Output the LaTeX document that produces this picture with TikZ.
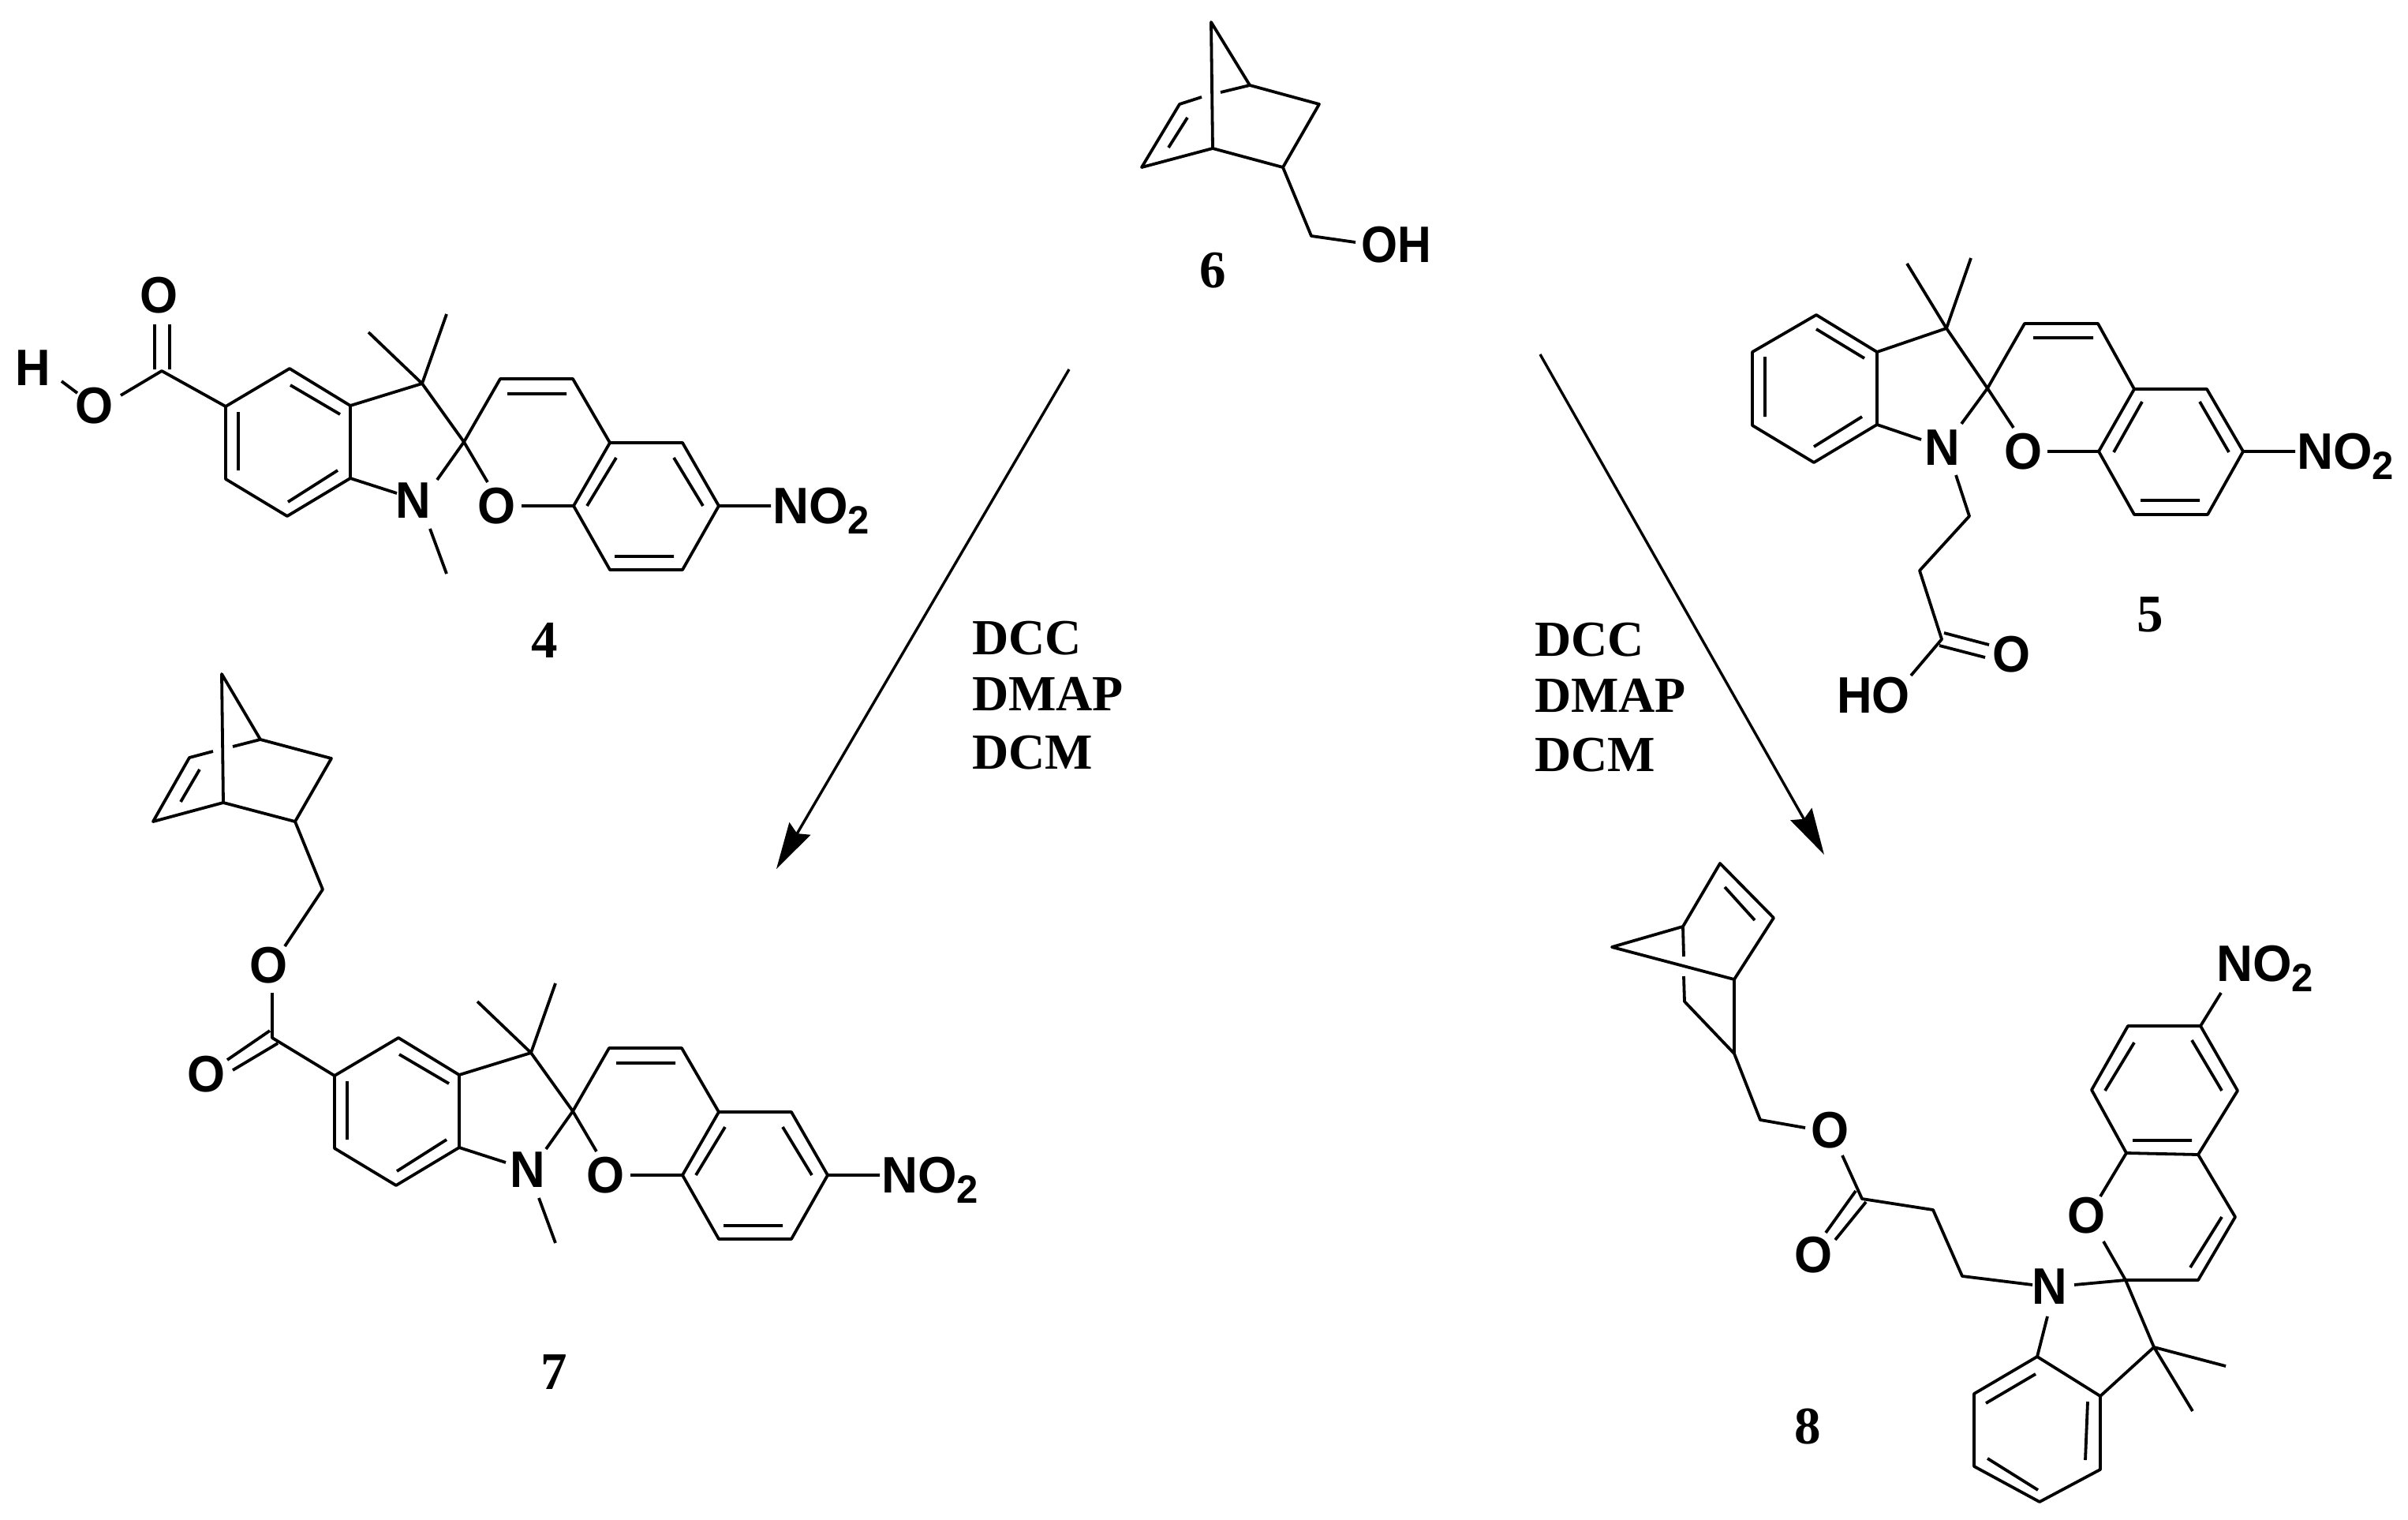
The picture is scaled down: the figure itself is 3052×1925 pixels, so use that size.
\documentclass[tikz,border=0pt]{standalone}
\usepackage{fontspec}
\usetikzlibrary{arrows.meta}
\setmainfont{Liberation Serif}
\newfontfamily\atomfont{Liberation Sans}
\newcommand{\cc}[3]{\coordinate (#1) at (#2,#3);}
\newcommand{\nitro}{\scalebox{.98}[1]{NO\raisebox{-13pt}{\fontsize{50}{50}\selectfont 2}}}
\tikzset{
  bond/.style={line width=3.8pt,line join=round,draw=black},
  atom/.style={inner sep=0pt,outer sep=0pt,anchor=base,font=\fontsize{65}{65}\selectfont\atomfont\bfseries,text=black},
  atomleft/.style={atom,anchor=base west},
  cmpd/.style={inner sep=0pt,outer sep=0pt,anchor=base,font=\fontsize{67}{67}\selectfont\bfseries,text=black},
  reagent/.style={inner sep=0pt,outer sep=0pt,anchor=base west,font=\fontsize{64}{64}\selectfont\bfseries,text=black},
  rxn/.style={line width=3.4pt,draw=black,-{Stealth[length=59pt,width=31pt,inset=7pt]}}
}
% Methyl-spiropyran core shared by compounds 4 and 7 (#1 = x of the N label)
\newcommand{\spirocore}[1]{%
  \cc{c5}{286}{515}\cc{c4}{367}{467}\cc{c3a}{444}{514}\cc{c7a}{444}{606}\cc{c7}{364}{654}\cc{c6}{286}{607}
  \cc{c3}{535}{486}\cc{sp}{588}{560}\cc{me1}{467}{421}\cc{me2}{566}{398}
  \cc{nl}{503}{625}\cc{nr}{554}{608}\cc{nb}{545}{670}\cc{nme}{566}{727}
  \cc{ot}{618}{611}\cc{or}{661}{641}
  \cc{p1}{634}{480}\cc{p2}{726}{480}\cc{p3}{773}{561}\cc{p4}{865}{561}\cc{p5}{911}{641}\cc{p6}{865}{722}\cc{p7}{773}{722}\cc{p8}{727}{641}
  \cc{no}{977}{641}
  \cc{i1a}{643}{499}\cc{i1b}{718}{499}\cc{i2a}{781}{580}\cc{i2b}{744}{641}\cc{i3a}{854}{580}\cc{i3b}{891}{641}\cc{i4a}{779}{705}\cc{i4b}{854}{705}
  \cc{i5a}{368}{488}\cc{i5b}{431}{525}\cc{i6a}{302}{522}\cc{i6b}{302}{596}\cc{i7a}{365}{636}\cc{i7b}{428}{596}
  \draw[bond] (c5)--(c4)--(c3a)--(c7a)--(c7)--(c6)--cycle;
  \draw[bond] (i5a)--(i5b) (i6a)--(i6b) (i7a)--(i7b);
  \draw[bond] (c3a)--(c3)--(sp) (me1)--(c3)--(me2);
  \draw[bond] (c7a)--(nl) (nr)--(sp) (nb)--(nme);
  \draw[bond] (sp)--(p1)--(p2)--(p3)--(p4)--(p5)--(p6)--(p7)--(p8)--(p3);
  \draw[bond] (i1a)--(i1b) (i2a)--(i2b) (i3a)--(i3b) (i4a)--(i4b);
  \draw[bond] (sp)--(ot) (or)--(p8) (p5)--(no);
  \node[atom] (Natom) at (#1,656) {\scalebox{.95}[1]{N}};
  \node[atom] (Oatom) at (630,663) {\scalebox{.95}[1]{O}};
  \node[atomleft] (NO2) at (979,663) {\nitro};
}
\begin{document}
\begin{tikzpicture}[x=1pt,y=-1pt]
\path[fill=white,use as bounding box] (0,0) rectangle (3052,1925);

% ---------- compound 6
\begin{scope}[name prefix=m6-]
\cc{top}{1535}{28}\cc{foot}{1537}{188}\cc{rt}{1584}{108}\cc{r}{1672}{132}\cc{c}{1626}{212}\cc{l}{1447}{212}\cc{lt}{1495}{132}
\cc{g1}{1523}{123}\cc{g2}{1547}{117}\cc{i1}{1505}{149}\cc{i2}{1481}{187}\cc{ch}{1662}{299}\cc{oh}{1718}{307}
\draw[bond] (rt)--(top)--(foot)--(l)--(lt)--(g1) (g2)--(rt)--(r)--(c)--(foot) (i1)--(i2) (c)--(ch)--(oh);
\node[atomleft] (OH) at (1725,332) {\scalebox{.91}[1]{OH}};
\node[cmpd] (lab) at (1537,364) {6};
\end{scope}

% ---------- compound 4
\begin{scope}[name prefix=m4-]
\spirocore{524}
\cc{cc}{205}{470}\cc{d1a}{196}{411}\cc{d1b}{196}{468}\cc{d2a}{215}{411}\cc{d2b}{215}{468}\cc{co}{153}{501}\cc{oh1}{98}{498}\cc{oh2}{78}{483}
\draw[bond] (c5)--(cc)--(co) (d1a)--(d1b) (d2a)--(d2b) (oh1)--(oh2);
\node[atom] (Ot) at (202,396) {\scalebox{.95}[1]{O}};
\node[atom] (Oh) at (120,536) {\scalebox{.95}[1]{O}};
\node[atom] (H) at (42,488) {\scalebox{.95}[1]{H}};
\node[cmpd] (lab) at (690,833) {4};
\end{scope}

% ---------- compound 7
\begin{scope}[shift={(138,848)},name prefix=m7-]
\spirocore{531}
\end{scope}
\begin{scope}[name prefix=m7b-]
\cc{cc}{345}{1315}\cc{d1a}{342}{1306}\cc{d1b}{288}{1343}\cc{d2a}{352}{1322}\cc{d2b}{295}{1356}
\cc{oa}{345}{1258}\cc{ob}{361}{1199}\cc{ch}{409}{1127}\cc{c}{374}{1041}\cc{f}{283}{1017}\cc{l}{194}{1041}\cc{lt}{240}{960}\cc{rt}{330}{937}\cc{r}{420}{961}\cc{top}{281}{854}
\cc{g1}{270}{952}\cc{g2}{295}{946}\cc{i1}{253}{975}\cc{i2}{229}{1016}
\draw[bond] (m7-c5)--(cc)--(oa) (d1a)--(d1b) (d2a)--(d2b) (ob)--(ch)--(c)--(f)--(l)--(lt)--(g1) (g2)--(rt)--(r)--(c) (f)--(top)--(rt) (i1)--(i2);
\node[atom] (Oe) at (341,1245) {\scalebox{.95}[1]{O}};
\node[atom] (Od) at (262,1383) {\scalebox{.95}[1]{O}};
\node[cmpd] (lab) at (702,1760) {7};
\end{scope}

% ---------- compound 5
\begin{scope}[name prefix=m5-]
\cc{c3}{2467}{416}\cc{sp}{2519}{492}\cc{me1}{2417}{334}\cc{me2}{2498}{327}
\cc{a}{2379}{446}\cc{b}{2379}{538}\cc{c}{2299}{586}\cc{d}{2221}{539}\cc{e}{2221}{446}\cc{f}{2302}{399}
\cc{i1a}{2302}{417}\cc{i1b}{2363}{454}\cc{i2a}{2237}{452}\cc{i2b}{2237}{528}\cc{i3a}{2299}{566}\cc{i3b}{2360}{528}
\cc{nl}{2435}{557}\cc{nr}{2486}{537}\cc{ot}{2552}{542}\cc{or}{2595}{572}
\cc{p1}{2566}{410}\cc{p2}{2659}{410}\cc{p3}{2705}{493}\cc{p4}{2797}{493}\cc{p5}{2843}{572}\cc{p6}{2798}{652}\cc{p7}{2705}{652}\cc{p8}{2660}{572}
\cc{j1a}{2577}{428}\cc{j1b}{2653}{428}\cc{j2a}{2715}{509}\cc{j2b}{2679}{573}\cc{j3a}{2788}{509}\cc{j3b}{2825}{573}\cc{j4a}{2713}{634}\cc{j4b}{2788}{634}
\cc{no}{2909}{572}\cc{nb}{2479}{602}\cc{ch1}{2496}{654}\cc{ch2}{2433}{723}\cc{cc}{2461}{810}
\cc{d1a}{2464}{802}\cc{d1b}{2521}{817}\cc{d2a}{2458}{818}\cc{d2b}{2516}{833}\cc{oh}{2422}{856}
\draw[bond] (a)--(b)--(c)--(d)--(e)--(f)--cycle (i1a)--(i1b) (i2a)--(i2b) (i3a)--(i3b);
\draw[bond] (a)--(c3)--(sp) (me1)--(c3)--(me2) (b)--(nl) (nr)--(sp)--(ot);
\draw[bond] (sp)--(p1)--(p2)--(p3)--(p4)--(p5)--(p6)--(p7)--(p8)--(p3) (or)--(p8) (p5)--(no);
\draw[bond] (j1a)--(j1b) (j2a)--(j2b) (j3a)--(j3b) (j4a)--(j4b);
\draw[bond] (nb)--(ch1)--(ch2)--(cc)--(oh) (d1a)--(d1b) (d2a)--(d2b);
\node[atom] (N) at (2462,589) {\scalebox{.95}[1]{N}};
\node[atom] (O) at (2564,594) {\scalebox{.95}[1]{O}};
\node[atomleft] (NO2) at (2911,594) {\nitro};
\node[atom] (Od) at (2549,851) {\scalebox{.95}[1]{O}};
\node[atomleft] (HO) at (2328,903) {\scalebox{.95}[1]{HO}};
\node[cmpd] (lab) at (2725,800) {5};
\end{scope}

% ---------- compound 8
\begin{scope}[name prefix=m8-]
\cc{t}{2180}{1094}\cc{u}{2248}{1163}\cc{v}{2198}{1241}\cc{w}{2133}{1174}\cc{ap}{2043}{1200}\cc{x}{2135}{1269}\cc{y}{2198}{1335}
\cc{g1}{2134}{1212}\cc{g2}{2134}{1237}\cc{k1}{2186}{1124}\cc{k2}{2224}{1166}
\cc{ch}{2231}{1419}\cc{oa}{2288}{1429}\cc{ob}{2335}{1464}\cc{cc}{2360}{1519}
\cc{d1a}{2352}{1509}\cc{d1b}{2314}{1562}\cc{d2a}{2365}{1523}\cc{d2b}{2326}{1571}
\cc{e}{2450}{1533}\cc{f}{2487}{1617}\cc{nl}{2576}{1628}\cc{nr}{2629}{1628}\cc{sp}{2694}{1622}
\cc{p1}{2786}{1622}\cc{p2}{2833}{1542}\cc{p3}{2786}{1463}\cc{p4}{2695}{1461}\cc{p5}{2651}{1381}\cc{p6}{2697}{1300}\cc{p7}{2789}{1300}\cc{p8}{2836}{1382}
\cc{oa2}{2662}{1516}\cc{ob2}{2666}{1573}\cc{c3}{2730}{1707}\cc{me1}{2821}{1731}\cc{me2}{2779}{1788}
\cc{b1}{2662}{1769}\cc{nb}{2595}{1668}\cc{b2}{2582}{1719}\cc{b3}{2502}{1766}\cc{b4}{2502}{1858}\cc{b5}{2585}{1903}\cc{b6}{2662}{1862}
\cc{m1a}{2580}{1741}\cc{m1b}{2517}{1778}\cc{m2a}{2646}{1776}\cc{m2b}{2643}{1850}\cc{m3a}{2519}{1848}\cc{m3b}{2583}{1888}
\cc{q1a}{2816}{1542}\cc{q1b}{2776}{1606}\cc{q2a}{2703}{1445}\cc{q2b}{2778}{1445}\cc{q3a}{2705}{1321}\cc{q3b}{2668}{1382}\cc{q4a}{2778}{1318}\cc{q4b}{2816}{1382}
\cc{no}{2815}{1258}
\draw[bond] (v)--(u)--(t)--(w)--(ap)--(v)--(y)--(x)--(g2) (g1)--(w) (k1)--(k2) (y)--(ch)--(oa) (ob)--(cc)--(e)--(f)--(nl) (d1a)--(d1b) (d2a)--(d2b);
\draw[bond] (nr)--(sp)--(p1)--(p2)--(p3)--(p4)--(p5)--(p6)--(p7)--(p8)--(p3) (oa2)--(p4) (ob2)--(sp)--(c3) (me1)--(c3)--(me2) (c3)--(b1)--(b2)--(b3)--(b4)--(b5)--(b6)--(b1) (nb)--(b2) (p7)--(no);
\draw[bond] (m1a)--(m1b) (m2a)--(m2b) (m3a)--(m3b) (q1a)--(q1b) (q2a)--(q2b) (q3a)--(q3b) (q4a)--(q4b);
\node[atom] (Oe) at (2319,1454) {\scalebox{.95}[1]{O}};
\node[atom] (Od) at (2298,1612) {\scalebox{.95}[1]{O}};
\node[atom] (N) at (2598,1652) {\scalebox{.95}[1]{N}};
\node[atom] (O) at (2644,1562) {\scalebox{.95}[1]{O}};
\node[atomleft] (NO2) at (2809,1243) {\nitro};
\node[cmpd] (lab) at (2291,1829) {8};
\end{scope}

% ---------- reaction arrows and reagents
\coordinate (la) at (1355,468);\coordinate (lb) at (984,1101);
\coordinate (ra) at (1952,449);\coordinate (rb) at (2312,1083);
\draw[rxn] (la)--(lb);
\draw[rxn] (ra)--(rb);
\node[reagent] (dcc1) at (1232,829) {DCC};
\node[reagent] (dmap1) at (1232,900) {DMAP};
\node[reagent] (dcm1) at (1232,974) {DCM};
\node[reagent] (dcc2) at (1945,831) {DCC};
\node[reagent] (dmap2) at (1945,902) {DMAP};
\node[reagent] (dcm2) at (1945,977) {DCM};
\end{tikzpicture}
\end{document}
